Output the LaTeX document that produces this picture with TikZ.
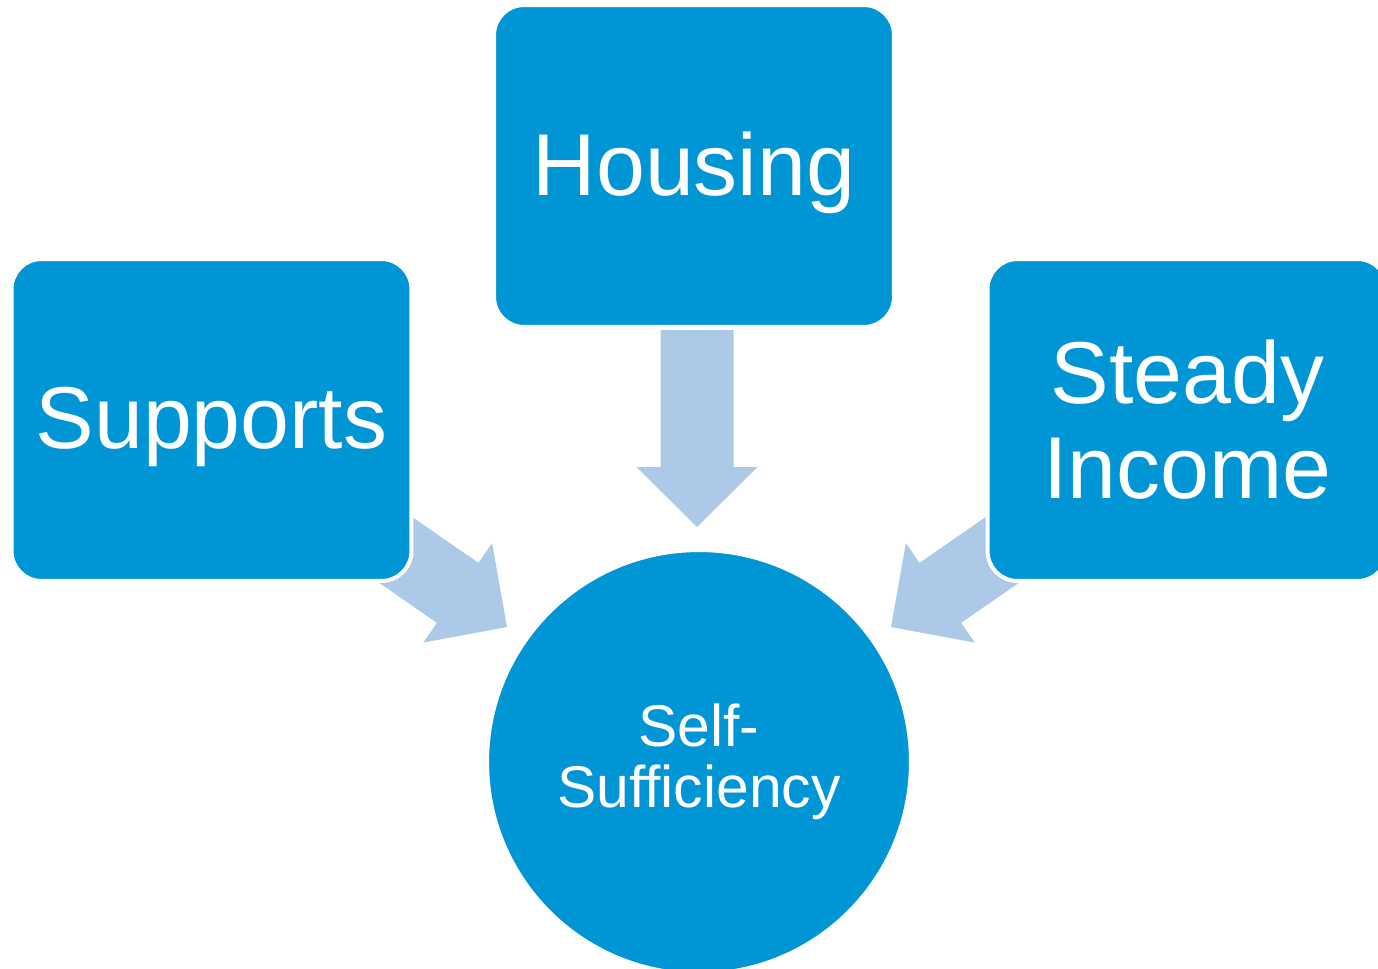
\documentclass[tikz,border=0pt]{standalone}
\usepackage{fontspec}
\setmainfont{Liberation Sans}
\usetikzlibrary{positioning}
\definecolor{boxblue}{RGB}{0,150,214}
\definecolor{arrowblue}{RGB}{173,201,232}
\tikzset{
	block/.style={draw=white, line width=0.08cm, fill=boxblue, rounded corners=0.6cm,
		minimum width=8cm, minimum height=6.44cm, text=white, align=center,
		font=\fontsize{50}{54}\selectfont},
	goal/.style={circle, draw=white, line width=0.08cm, fill=boxblue, minimum size=8.48cm,
		text=white, align=center, font=\fontsize{33.5}{35}\selectfont},
	bigarrow/.style={fill=arrowblue, draw=none}
}
% block arrow pointing down, tip at the origin
\newcommand{\blockarrow}{\fill[bigarrow] (-36.5,-197) -- (36.5,-197) -- (36.5,-60) -- (60.5,-60) -- (0,0) -- (-60.5,-60) -- (-36.5,-60) -- cycle;}

\begin{document}
\begin{tikzpicture}[x=0.02cm, y=-0.02cm]
	\clip (0,0) rectangle (1378,968);

	\begin{scope}[shift={(697,527)}]
	\blockarrow
	\end{scope}

	\begin{scope}[shift={(507,627)}, rotate=55.3]
	\blockarrow
	\end{scope}

	\begin{scope}[shift={(891,627)}, rotate=-55.3]
	\blockarrow
	\end{scope}

	\node[block, text depth=0.1cm] (housing) at (694,166) {Housing};
	\node[block, text depth=0.1cm] (supports) at (211.5,420) {Supports};
	\node[block] (income) at (1187.5,420) {Steady\\Income};
	\node[goal] (self) at (699,762) {Self-\\Sufficiency};
\end{tikzpicture}
\end{document}
